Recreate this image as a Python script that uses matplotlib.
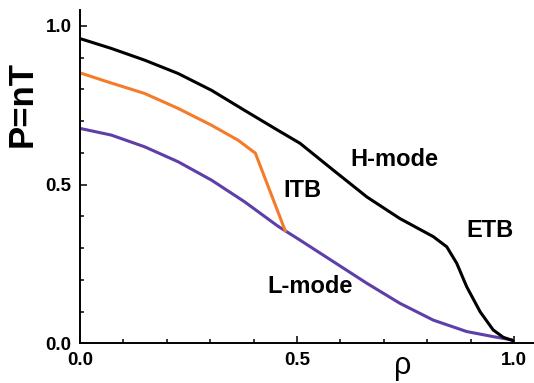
import matplotlib.pyplot as plt
from matplotlib.ticker import MultipleLocator

plt.rcParams['font.family'] = ['Liberation Sans', 'DejaVu Sans']

# H-mode profile
rho_h = [0.0, 0.072, 0.149, 0.226, 0.303, 0.379, 0.456, 0.507, 0.584, 0.661,
         0.737, 0.814, 0.845, 0.868, 0.891, 0.922, 0.952, 0.975, 0.998]
p_h = [0.960, 0.929, 0.892, 0.850, 0.797, 0.734, 0.671, 0.630, 0.545, 0.461,
       0.393, 0.336, 0.304, 0.252, 0.178, 0.099, 0.042, 0.019, 0.008]

# ITB profile
rho_itb = [0.0, 0.072, 0.149, 0.226, 0.303, 0.364, 0.404, 0.473]
p_itb = [0.852, 0.820, 0.787, 0.740, 0.687, 0.640, 0.599, 0.354]

# L-mode profile
rho_l = [0.0, 0.072, 0.149, 0.226, 0.303, 0.379, 0.456, 0.507, 0.584, 0.661,
         0.737, 0.814, 0.891, 0.952, 0.998]
p_l = [0.677, 0.656, 0.619, 0.572, 0.514, 0.446, 0.369, 0.325, 0.257, 0.189,
       0.126, 0.073, 0.037, 0.021, 0.010]

fig = plt.figure(figsize=(5.34, 3.83), dpi=100)
ax = fig.add_axes([80 / 534, 39.7 / 383, 454 / 534, 333.3 / 383])

line_kw = dict(lw=2.2, solid_joinstyle='round', solid_capstyle='round')
ax.plot(rho_l, p_l, color='#5E3EA8', **line_kw)
ax.plot(rho_itb, p_itb, color='#F47B2A', **line_kw)
ax.plot(rho_h, p_h, color='black', **line_kw)

ax.set_xlim(0, 1.046)
ax.set_ylim(0, 1.05)
ax.spines['top'].set_visible(False)
ax.spines['right'].set_visible(False)
for s in ['left', 'bottom']:
    ax.spines[s].set_linewidth(1.4)

ax.set_xticks([0.0, 0.5, 1.0])
ax.set_yticks([0.0, 0.5, 1.0])
ax.xaxis.set_minor_locator(MultipleLocator(0.1))
ax.yaxis.set_minor_locator(MultipleLocator(0.1))
ax.tick_params(which='both', direction='in', width=1.1)
ax.tick_params(which='major', length=5)
ax.tick_params(which='minor', length=3)
ax.tick_params(axis='x', which='major', pad=6)
ax.tick_params(axis='y', which='major', pad=6)
ax.set_xticklabels(['0.0', '0.5', '1.0'], fontsize=13.5, fontweight='bold')
ax.set_yticklabels(['0.0', '0.5', '1.0'], fontsize=13.5, fontweight='bold')

fig.text(22 / 534, 1 - 104 / 383, 'P=nT', rotation=90, fontsize=25,
         fontweight='bold', ha='center', va='center')
fig.text(403 / 534, 1 - 366 / 383, 'ρ', fontsize=22, ha='center', va='center')

lab = dict(fontsize=17, fontweight='bold', ha='center', va='center')
ax.text(0.725, 0.58, 'H-mode', **lab)
ax.text(0.513, 0.48, 'ITB', **lab)
ax.text(0.945, 0.355, 'ETB', **lab)
ax.text(0.53, 0.18, 'L-mode', **lab)

fig.savefig('out.png', dpi=100)
